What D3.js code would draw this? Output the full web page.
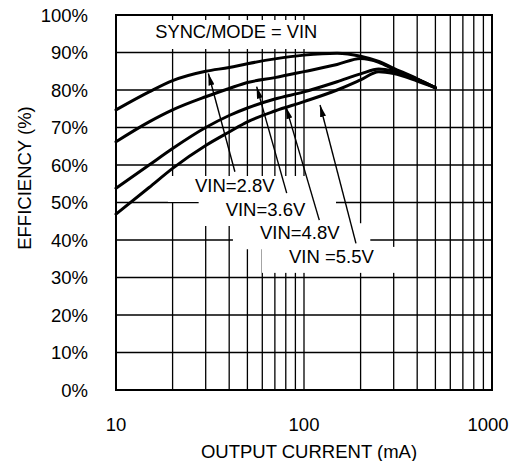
<!DOCTYPE html>
<html><head><meta charset="utf-8">
<script src="https://cdn.jsdelivr.net/npm/d3@7"></script>
<style>html,body{margin:0;padding:0;background:#fff;}svg{display:block;}</style>
</head><body>
<svg id="c" width="517" height="461"></svg>
<script>
const current = [10, 15, 20, 30, 40, 50, 70, 100, 150, 200, 250, 300, 400, 500];
const eff28 = [74.7, 79.5, 82.5, 85.0, 86.0, 87.0, 88.3, 89.3, 89.8, 89.0, 87.6, 85.8, 83.0, 80.6];
const eff36 = [66.2, 71.5, 74.7, 78.2, 80.4, 82.0, 83.3, 84.9, 86.8, 88.4, 87.4, 85.5, 82.9, 80.6];
const eff48 = [53.8, 60.0, 64.4, 70.0, 73.2, 75.2, 77.6, 79.5, 82.2, 84.3, 85.6, 85.0, 82.8, 80.6];
const eff55 = [46.9, 54.0, 59.1, 65.2, 68.8, 71.5, 74.4, 76.9, 80.0, 82.7, 84.9, 84.4, 82.4, 80.6];
const seriesNames = ["VIN=2.8V", "VIN=3.6V", "VIN=4.8V", "VIN =5.5V"];
const seriesValues = [eff28, eff36, eff48, eff55];
// annotation: arrow tip (on curve), arrow tail, label left/baseline (data units)
const arrowTip = [[31, 84.4], [56, 80.9], [80.2, 75.5], [121.7, 76.0]];
const arrowTail = [[42.9, 58.2], [80.9, 52.5], [120.6, 45.3], [189, 39.1]];
const labelPos = [[26.3, 52.8], [38.3, 46.4], [58.3, 40.2], [83.2, 33.9]];
const xTicks = [10, 100, 1000];
const xGrid = [20,30,40,50,60,70,80,90,100,200,300,400,500,600,700,800,900];
const yTicks = [0,10,20,30,40,50,60,70,80,90,100];
const modeLabel = "SYNC/MODE = VIN";
const xTitle = "OUTPUT CURRENT (mA)";
const yTitle = "EFFICIENCY (%)";

const FONT = "Arial, 'Liberation Sans', Helvetica, sans-serif";
const svg = d3.select("#c");
const x = d3.scaleLog().domain([10, 1000]).range([116, 492]);
const y = d3.scaleLinear().domain([0, 100]).range([390, 15]);

// grid
const g = svg.append("g");
g.selectAll("line.v").data(xGrid).join("line")
  .attr("x1", d => x(d)).attr("x2", d => x(d)).attr("y1", y(100)).attr("y2", y(0))
  .attr("stroke", "#000").attr("stroke-width", 1.3);
g.selectAll("line.h").data(yTicks.slice(1, -1)).join("line")
  .attr("x1", x(10)).attr("x2", x(1000)).attr("y1", d => y(d)).attr("y2", d => y(d))
  .attr("stroke", "#000").attr("stroke-width", 1.3);

// white boxes behind labels
const boxes = svg.append("g");
const texts = svg.append("g");
const mode = texts.append("text").attr("x", (x(10) + x(200)) / 2 - 2).attr("y", 38)
  .attr("text-anchor", "middle").attr("font-family", FONT).attr("font-size", 18.3).text(modeLabel);
seriesNames.forEach((n, i) => {
  texts.append("text").attr("class", "lab").attr("x", x(labelPos[i][0])).attr("y", y(labelPos[i][1]))
    .attr("font-family", FONT).attr("font-size", 18.5).text(n);
});
{
  const b = mode.node().getBBox();
  boxes.append("rect").attr("x", x(10) + 2).attr("y", y(100) + 5)
    .attr("width", b.x + b.width + 24 - x(10) - 2).attr("height", b.y + b.height + 7 - y(100) - 5).attr("fill", "#fff");
}
texts.selectAll("text.lab").each(function() {
  const b = this.getBBox();
  boxes.append("rect").attr("x", b.x - 27).attr("y", b.y + 1).attr("width", b.width + 57).attr("height", b.height + 5).attr("fill", "#fff");
});

// curves
const line = d3.line().x(d => x(d[0])).y(d => y(d[1])).curve(d3.curveMonotoneX);
seriesValues.forEach(vals => {
  svg.append("path").datum(current.map((c, i) => [c, vals[i]]))
    .attr("d", line).attr("fill", "none").attr("stroke", "#000").attr("stroke-width", 3)
    .attr("stroke-linejoin", "round").attr("stroke-linecap", "round");
});

// arrows
const defs = svg.append("defs");
defs.append("marker").attr("id", "ah").attr("viewBox", "0 0 12 6").attr("refX", 12).attr("refY", 3)
  .attr("markerWidth", 12).attr("markerHeight", 6).attr("markerUnits", "userSpaceOnUse").attr("orient", "auto")
  .append("path").attr("d", "M0,0 L12,3 L0,6 Z").attr("fill", "#000");
arrowTip.forEach((t, i) => {
  svg.append("line").attr("x1", x(arrowTail[i][0])).attr("y1", y(arrowTail[i][1]))
    .attr("x2", x(t[0])).attr("y2", y(t[1])).attr("stroke", "#000").attr("stroke-width", 1.4)
    .attr("marker-end", "url(#ah)");
});

texts.raise();

// frame
svg.append("rect").attr("x", x(10)).attr("y", y(100)).attr("width", x(1000) - x(10)).attr("height", y(0) - y(100))
  .attr("fill", "none").attr("stroke", "#000").attr("stroke-width", 2);

// axes labels
const ax = svg.append("g").attr("font-family", FONT).attr("font-size", 18.5).attr("fill", "#000");
ax.selectAll("text.yt").data(yTicks).join("text").attr("x", 88).attr("y", d => y(d) + 6.5)
  .attr("text-anchor", "end").text(d => d + "%");
ax.selectAll("text.xt").data(xTicks).join("text").attr("x", d => x(d) - (d === 1000 ? 4 : 0)).attr("y", 431)
  .attr("text-anchor", "middle").text(d => d);
ax.append("text").attr("x", x(100) + 5).attr("y", 458).attr("text-anchor", "middle").text(xTitle);
ax.append("text").attr("transform", "translate(31,178) rotate(-90)").attr("text-anchor", "middle").text(yTitle);
</script>
</body></html>
